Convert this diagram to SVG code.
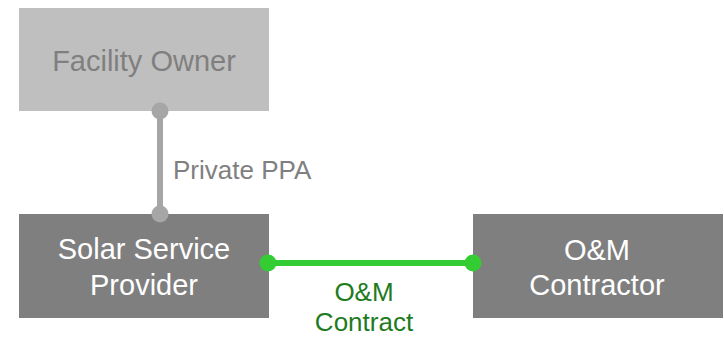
<svg xmlns="http://www.w3.org/2000/svg" width="724" height="337" viewBox="0 0 724 337">
<style>
.node-text{font-family:"Liberation Sans",Arial,sans-serif;font-size:29px;text-anchor:middle}
.lbl{font-family:"Liberation Sans",Arial,sans-serif;font-size:26px}
</style>
<rect width="724" height="337" fill="#ffffff"/>
<g id="facility-owner">
<rect x="19" y="8" width="250" height="103" fill="#bfbfbf"/>
<text class="node-text" x="144" y="71" fill="#7f7f7f">Facility Owner</text>
</g>
<g id="solar-service-provider">
<rect x="19" y="214" width="250" height="104" fill="#7f7f7f"/>
<text class="node-text" x="144" y="259" fill="#ffffff">Solar Service</text>
<text class="node-text" x="144" y="295" fill="#ffffff">Provider</text>
</g>
<g id="om-contractor">
<rect x="473" y="214" width="250" height="104" fill="#7f7f7f"/>
<text class="node-text" x="597" y="260" fill="#ffffff">O&amp;M</text>
<text class="node-text" x="597" y="295" fill="#ffffff">Contractor</text>
</g>
<g id="connectors">
<line x1="160" y1="111" x2="160" y2="214" stroke="#a6a6a6" stroke-width="6"/>
<circle cx="160" cy="111" r="8.5" fill="#a6a6a6"/>
<circle cx="160" cy="214" r="8.5" fill="#a6a6a6"/>
<text class="lbl" x="173" y="179" fill="#808080">Private PPA</text>
<line x1="268" y1="263" x2="473" y2="263" stroke="#33cc33" stroke-width="6"/>
<circle cx="268" cy="263" r="8.5" fill="#33cc33"/>
<circle cx="473" cy="263" r="8.5" fill="#33cc33"/>
<text class="lbl" x="364" y="301" fill="#1e7b1e" text-anchor="middle">O&amp;M</text>
<text class="lbl" x="364" y="331" fill="#1e7b1e" text-anchor="middle">Contract</text>
</g>
</svg>
